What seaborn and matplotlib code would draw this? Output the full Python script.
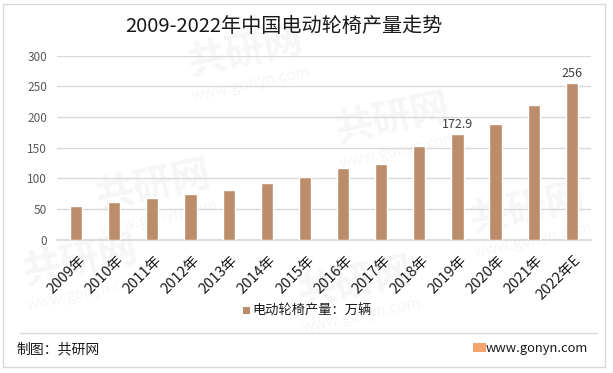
import pandas as pd
import matplotlib.pyplot as plt
import seaborn as sns
from matplotlib.patches import Rectangle
from matplotlib.lines import Line2D
from matplotlib.transforms import ScaledTranslation

years = ["2009年", "2010年", "2011年", "2012年", "2013年", "2014年", "2015年",
         "2016年", "2017年", "2018年", "2019年", "2020年", "2021年", "2022年E"]
output = [55, 62, 68, 75, 81, 93, 103, 117, 124, 153, 172.9, 189, 220, 256]
labeled = {"2019年": "172.9", "2022年E": "256"}
series_name = "电动轮椅产量：万辆"

sns.set_theme(style="white")
plt.rcParams['font.family'] = ['Noto Sans CJK SC', 'DejaVu Sans']

df = pd.DataFrame({"year": years, "value": output})
bar_color = "#BB8D6B"

fig = plt.figure(figsize=(6.13, 3.73), dpi=100)

# faint watermarks behind everything
marks = [(0.40, 0.86), (0.25, 0.50), (0.64, 0.68), (0.13, 0.30),
         (0.58, 0.24), (0.86, 0.44)]
for mx, my in marks:
    fig.text(mx, my, "共研网", fontsize=28, fontweight="bold", color="#F6F6F6",
             rotation=12, ha="center", va="center", zorder=-2)
    fig.text(mx + 0.01, my - 0.085, "www.gonyn.com", fontsize=11, color="#F6F6F6",
             rotation=12, ha="center", va="center", zorder=-2)

ax = fig.add_axes([0.093, 0.357, 0.871, 0.494])
ax.patch.set_alpha(0)

sns.barplot(data=df, x="year", y="value", color=bar_color, width=0.32,
            saturation=1, ax=ax, zorder=3)

ax.set_ylim(0, 300)
ax.set_yticks(range(0, 301, 50))
ax.yaxis.grid(True, color="#D9D9D9", linewidth=1, zorder=0)
ax.set_xlim(-0.5, len(years) - 0.5)
for s in ["top", "right", "left"]:
    ax.spines[s].set_visible(False)
ax.spines["bottom"].set_color("#D9D9D9")
ax.set_xlabel("")
ax.set_ylabel("")
ax.tick_params(axis="y", labelsize=8.5, labelcolor="#595959", length=0, pad=7)
ax.tick_params(axis="x", labelsize=10.5, labelcolor="#1a1a1a", length=0, pad=0)
shift = ScaledTranslation(5 / 72, -13 / 72, fig.dpi_scale_trans)
for lab in ax.get_xticklabels():
    lab.set_rotation(45)
    lab.set_ha("right")
    lab.set_va("center")
    lab.set_rotation_mode("anchor")
    lab.set_transform(lab.get_transform() + shift)

for i, (y, v) in enumerate(zip(years, output)):
    if y in labeled:
        ax.text(i, v + 5, labeled[y], ha="center", va="bottom",
                fontsize=9, color="#404040")

fig.text(0.4625, 0.93, "2009-2022年中国电动轮椅产量走势", ha="center",
         va="center", fontsize=14.5, color="#1a1a1a")

# legend
fig.patches.append(Rectangle((0.396, 0.158), 0.012, 0.02, transform=fig.transFigure,
                             facecolor=bar_color, edgecolor="none"))
fig.text(0.412, 0.166, series_name, ha="left", va="center", fontsize=9.5,
         color="#1a1a1a")

# footer
fig.lines.append(Line2D([0.033, 0.974], [0.107, 0.107], transform=fig.transFigure,
                        color="#D9D9D9", linewidth=1))
fig.text(0.027, 0.064, "制图：共研网", ha="left", va="center", fontsize=10,
         color="#1a1a1a")
fig.patches.append(Rectangle((0.772, 0.056), 0.021, 0.025, transform=fig.transFigure,
                             facecolor="#F5A36C", edgecolor="none"))
fig.text(0.959, 0.067, "www.gonyn.com", ha="right", va="center", fontsize=9.3,
         color="#1a1a1a")

# border
fig.patches.append(Rectangle((0.005, 0.016), 0.982, 0.973, transform=fig.transFigure,
                             facecolor="none", edgecolor="#D9D9D9", linewidth=1))

fig.savefig("out.png", dpi=100)
